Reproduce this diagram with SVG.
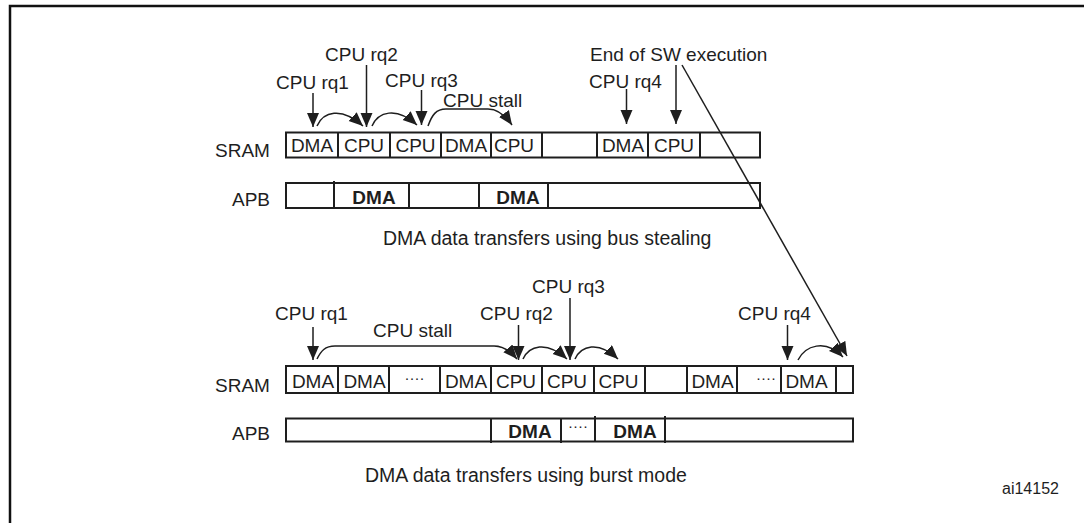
<svg xmlns="http://www.w3.org/2000/svg" width="1084" height="523" viewBox="0 0 1084 523">
  <style>
    text { font-family: "Liberation Sans", Arial, Helvetica, sans-serif; fill: #1e1e1e; }
    .lbl { font-size: 19px; }
    .cap { font-size: 19.5px; }
    .cell { font-size: 19px; text-anchor: middle; }
    .bold { font-size: 19px; font-weight: bold; text-anchor: middle; }
    .dots { font-size: 15px; text-anchor: middle; }
    .row { fill: #ffffff; stroke: #1e1e1e; stroke-width: 2; }
    .div { stroke: #1e1e1e; stroke-width: 2; }
    .arr { fill: none; stroke: #1e1e1e; stroke-width: 1.5; marker-end: url(#head); }
    .frame { fill: none; stroke: #111; stroke-width: 2.5; }
  </style>
  <defs>
    <marker id="head" markerUnits="userSpaceOnUse" markerWidth="16" markerHeight="13" refX="14" refY="6" orient="auto">
      <path d="M0,0 L14,6 L0,12 z" fill="#1e1e1e"/>
    </marker>
  </defs>

  <rect width="1084" height="523" fill="#ffffff"/>
  <!-- page frame (open to the right and bottom) -->
  <path class="frame" d="M10,530 L10,6 L1090,6"/>

  <!-- ===== bus stealing ===== -->
  <g id="steal-sram">
    <text class="lbl" x="215" y="157">SRAM</text>
    <rect class="row" x="286" y="132.5" width="474" height="25"/>
    <path class="div" d="M338,132.5V157.5M390,132.5V157.5M441,132.5V157.5M491,132.5V157.5M542,132.5V157.5M597,132.5V157.5M648,132.5V157.5M700,132.5V157.5"/>
    <text class="cell" x="312" y="152">DMA</text>
    <text class="cell" x="364" y="152">CPU</text>
    <text class="cell" x="415.5" y="152">CPU</text>
    <text class="cell" x="466" y="152">DMA</text>
    <text class="cell" x="514" y="152">CPU</text>
    <text class="cell" x="623" y="152">DMA</text>
    <text class="cell" x="674" y="152">CPU</text>
  </g>

  <g id="steal-apb">
    <text class="lbl" x="232" y="206">APB</text>
    <rect class="row" x="286" y="183" width="474" height="25"/>
    <path class="div" d="M334,181V208M409,183V208M479,183V208M548,183V208"/>
    <text class="bold" x="374" y="204">DMA</text>
    <text class="bold" x="518" y="204">DMA</text>
  </g>

  <g id="steal-labels">
    <text class="lbl" x="325" y="61">CPU rq2</text>
    <text class="lbl" x="276" y="89">CPU rq1</text>
    <text class="lbl" x="385" y="87">CPU rq3</text>
    <text class="lbl" x="443" y="107">CPU stall</text>
    <text class="lbl" x="590" y="61">End of SW execution</text>
    <text class="lbl" x="589" y="88">CPU rq4</text>
    <text class="cap" x="383" y="245">DMA data transfers using bus stealing</text>
  </g>

  <!-- ===== burst mode ===== -->
  <g id="burst-sram">
    <text class="lbl" x="215" y="392">SRAM</text>
    <rect class="row" x="286" y="366" width="567" height="27"/>
    <path class="div" d="M338,366V393M389,366V393M440,366V393M491,366V393M542,366V393M594,366V393M645,366V393M687,366V393M737,366V393M781,366V393M836,366V393"/>
    <text class="cell" x="313" y="388">DMA</text>
    <text class="cell" x="364.5" y="388">DMA</text>
    <text class="dots" x="414.5" y="383">····</text>
    <text class="cell" x="466" y="388">DMA</text>
    <text class="cell" x="516" y="388">CPU</text>
    <text class="cell" x="567" y="388">CPU</text>
    <text class="cell" x="618.5" y="388">CPU</text>
    <text class="cell" x="712.5" y="388">DMA</text>
    <text class="dots" x="766" y="383">····</text>
    <text class="cell" x="806.5" y="388">DMA</text>
  </g>

  <g id="burst-apb">
    <text class="lbl" x="232" y="440">APB</text>
    <rect class="row" x="286" y="418.5" width="567" height="23"/>
    <path class="div" d="M491,418.5V443M561,418.5V443M595,416V441.5M665,416V443"/>
    <text class="bold" x="530" y="438">DMA</text>
    <text class="dots" x="578" y="431">····</text>
    <text class="bold" x="635" y="438">DMA</text>
  </g>

  <g id="burst-labels">
    <text class="lbl" x="532" y="293">CPU rq3</text>
    <text class="lbl" x="275" y="320">CPU rq1</text>
    <text class="lbl" x="480" y="320">CPU rq2</text>
    <text class="lbl" x="738" y="320">CPU rq4</text>
    <text class="lbl" x="373" y="337">CPU stall</text>
    <text class="cap" x="365" y="482">DMA data transfers using burst mode</text>
  </g>

  <text id="ref" x="1002" y="494" style="font-size:16px">ai14152</text>

  <g id="connectors">
    <!-- bus stealing -->
    <path class="arr" d="M313,93V127"/>
    <path class="arr" d="M366.5,65V127"/>
    <path class="arr" d="M421.5,90V125"/>
    <path class="arr" d="M626.5,89V124"/>
    <path class="arr" d="M676,65V124"/>
    <path class="arr" d="M317,126C323,112 341,106 363,126"/>
    <path class="arr" d="M372,126C378,112 396,106 417,125"/>
    <path class="arr" d="M428,126C432,115 436,109 446,109L488,109C498,109 505,115 512,125"/>
    <path class="arr" d="M682,65L847,356"/>
    <!-- burst mode -->
    <path class="arr" d="M313,327V360"/>
    <path class="arr" d="M518.5,325V360"/>
    <path class="arr" d="M570,298V360"/>
    <path class="arr" d="M787.5,325V360"/>
    <path class="arr" d="M317,359C321,351 325,346 335,346L494,346C504,346 511,352 517,359"/>
    <path class="arr" d="M523,359C529,346 546,340 567,359"/>
    <path class="arr" d="M575,359C581,346 598,340 618,359"/>
    <path class="arr" d="M798,360C805,346 825,338 843,357"/>
  </g>
</svg>
